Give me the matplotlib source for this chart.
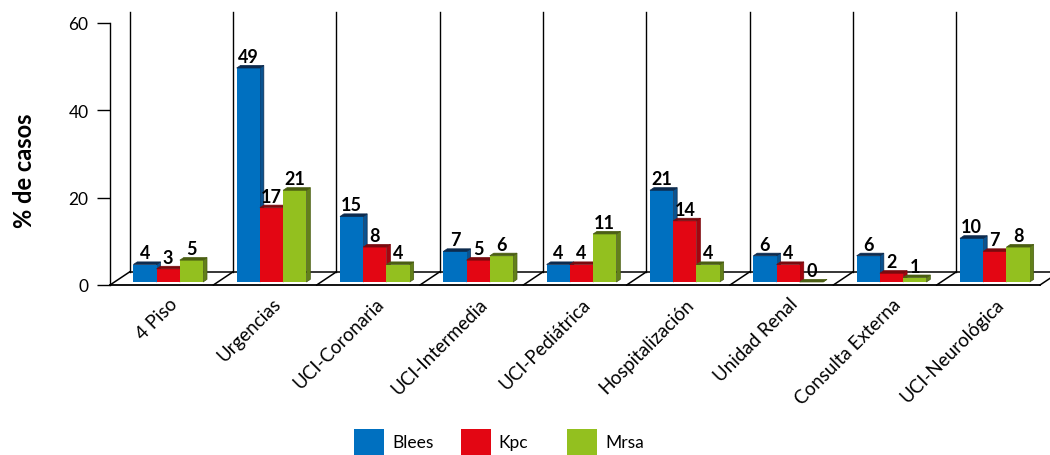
import matplotlib
matplotlib.use("Agg")
import matplotlib.pyplot as plt
from matplotlib.patches import Polygon, Rectangle

# servicios y porcentaje de casos por germen
servicios = ["4 Piso", "Urgencias", "UCI-Coronaria", "UCI-Intermedia", "UCI-Pediátrica",
             "Hospitalización", "Unidad Renal", "Consulta Externa", "UCI-Neurológica"]
blees = [4, 49, 15, 7, 4, 21, 6, 6, 10]
kpc = [3, 17, 8, 5, 4, 14, 4, 2, 7]
mrsa = [5, 21, 4, 6, 11, 4, 0, 1, 8]

series = [("Blees", blees), ("Kpc", kpc), ("Mrsa", mrsa)]
colores = ["#0070C0", "#E30613", "#93C01F"]
lados = ["#0A5390", "#A3050F", "#62801A"]
techos = ["#0D2B4E", "#7A0A0E", "#4A5E12"]

plt.rcParams["font.family"] = ["Lato", "DejaVu Sans"]

fig = plt.figure(figsize=(10.5, 4.56), dpi=100)
ax = fig.add_axes([110 / 1050, 170 / 456, 930 / 1050, 262 / 456])
ax.set_xlim(0, 9)
ax.set_ylim(0, 60)

# profundidad del "3D" en unidades de datos
DX, DY = 0.19, 3.0
f1, f2 = 0.23, 0.43
bw = 0.225
n = len(servicios)

# pared del fondo y piso
for k in range(n + 1):
    ax.plot([k + DX, k + DX], [DY, 60 + DY - 0.5], color="black", lw=1.0, clip_on=False, zorder=1)
    ax.plot([k, k + DX], [0, DY], color="black", lw=1.1, clip_on=False, zorder=1)
ax.plot([DX, n + DX], [DY, DY], color="black", lw=1.1, clip_on=False, zorder=1)
ax.plot([0, n], [0, 0], color="black", lw=1.3, clip_on=False, zorder=1)

# barras con cara frontal, lateral y superior
for i in range(n):
    for j, (nombre, valores) in enumerate(series):
        v = valores[i]
        x0 = i + 0.182 + j * bw
        xa, ya = x0 + f1 * DX, f1 * DY
        xb, yb = x0 + f2 * DX, f2 * DY
        frente = Rectangle((xa, ya), bw, v, facecolor=colores[j], edgecolor="none", zorder=3)
        lado = Polygon([(xa + bw, ya), (xb + bw, yb), (xb + bw, yb + v), (xa + bw, ya + v)],
                       closed=True, facecolor=lados[j], edgecolor=techos[j], lw=0.5, zorder=2.9)
        techo = Polygon([(xa, ya + v), (xa + bw, ya + v), (xb + bw, yb + v), (xb, yb + v)],
                        closed=True, facecolor=techos[j], edgecolor=techos[j], lw=0.5, zorder=3)
        for p in (lado, frente, techo):
            p.set_clip_on(False)
            ax.add_patch(p)
        ax.annotate(str(v), (xa + bw / 2, yb + v), xytext=(0, 2.5), textcoords="offset points",
                    ha="center", va="baseline", fontsize=13, fontweight="bold", zorder=5)

# etiquetas de categorías inclinadas
for i, s in enumerate(servicios):
    ax.annotate(s, (i + 0.5, 0), xytext=(5, -7), textcoords="offset points",
                ha="right", va="top", rotation=45, rotation_mode="anchor", fontsize=13.5)

ax.set_xticks([])
ax.set_yticks([0, 20, 40, 60])
ax.tick_params(axis="y", length=9.5, width=1.0, pad=6, labelsize=12.5)
for lado_eje in ("top", "right", "bottom"):
    ax.spines[lado_eje].set_visible(False)
ax.spines["left"].set_linewidth(1.0)
ax.set_ylabel("% de casos", fontsize=17, fontweight="bold")
ax.yaxis.set_label_coords(-0.08, 0.44)
ax.patch.set_alpha(0)

# leyenda
for j, (nombre, _) in enumerate(series):
    x = (354 + j * 106.5) / 1050
    fig.patches.append(Rectangle((x, 0), 30 / 1050, 26 / 456, transform=fig.transFigure,
                                 facecolor=colores[j], edgecolor="none"))
    fig.text(x + 38 / 1050, 13 / 456, nombre, fontsize=12.5, va="center", ha="left")

fig.savefig("out.png", dpi=100)
